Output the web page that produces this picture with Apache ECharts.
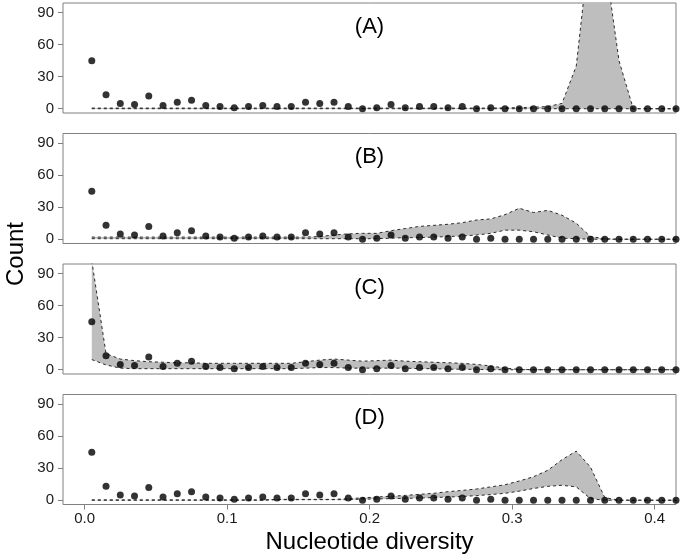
<!DOCTYPE html>
<html>
<head>
<meta charset="utf-8">
<script src="https://cdn.jsdelivr.net/npm/echarts@6/dist/echarts.min.js"></script>
<style>
  html, body { margin: 0; padding: 0; background: #fff; }
  #chart { width: 680px; height: 560px; }
</style>
</head>
<body>
<div id="chart"></div>
<script>
// bin centres (nucleotide diversity)
var binX = [0.005, 0.015, 0.025, 0.035, 0.045, 0.055, 0.065, 0.075, 0.085, 0.095,
  0.105, 0.115, 0.125, 0.135, 0.145, 0.155, 0.165, 0.175, 0.185, 0.195,
  0.205, 0.215, 0.225, 0.235, 0.245, 0.255, 0.265, 0.275, 0.285, 0.295,
  0.305, 0.315, 0.325, 0.335, 0.345, 0.355, 0.365, 0.375, 0.385, 0.395,
  0.405, 0.415];

// observed counts (same dots in every panel)
var counts = [45, 13, 5, 4, 12, 3, 6, 8, 3, 2,
  1, 2, 3, 2, 2, 6, 5, 6, 2, 0,
  1, 4, 1, 2, 2, 1, 2, 0, 1, 0,
  0, 0, 0, 0, 0, 0, 0, 0, 0, 0,
  0, 0];

// (A)
var lowerA = [0, 0, 0, 0, 0, 0, 0, 0, 0, 0,
  0, 0, 0, 0, 0, 0, 0, 0, 0, 0,
  0, 0, 0, 0, 0, 0, 0, 0, 0, 0,
  0, 0, 0, 0, 0, 0, 0, 0, 0, 0,
  0, 0];
var upperA = [0.6, 0.6, 0.6, 0.6, 0.6, 0.6, 0.6, 0.6, 0.6, 0.6,
  0.6, 0.6, 0.6, 0.6, 0.6, 0.6, 0.6, 0.6, 0.6, 0.6,
  0.6, 0.6, 0.6, 0.6, 0.6, 0.6, 0.6, 0.6, 0.6, 0.8,
  1, 1.5, 2, 5, 40, 160, 140, 45, 0, 0,
  0, 0];

// (B)
var lowerB = [0.5, 0.5, 0.5, 0.5, 0.5, 0.5, 0.5, 0.5, 0.5, 0.5,
  0.5, 0.5, 0.5, 0.5, 0.5, 0.5, 0.5, 0.5, 0.5, 0.5,
  0.5, 1, 1.5, 1.5, 2, 2.5, 3, 4, 5.5, 8.5,
  8.5, 7, 4, 1, 0.5, 0, 0, 0, 0, 0,
  0, 0];
var upperB = [2, 2, 2, 2, 2, 2, 2, 2, 2, 2,
  2, 2, 2, 2, 2, 2, 2.5, 4, 5, 5.5,
  5.5, 8, 10, 12, 13, 14, 15.5, 18, 19, 23,
  29, 25, 27, 22.5, 15, 2.5, 0.5, 0, 0, 0,
  0, 0];

// (C)
var lowerC = [9.5, 4.5, 1.5, 1, 1, 1, 1, 1, 1, 1,
  1, 1, 1, 1, 1, 1.5, 2, 2, 1.5, 1.5,
  1.5, 1.5, 1.5, 1, 1, 0.5, 0.5, 0.3, 0, 0,
  0, 0, 0, 0, 0, 0, 0, 0, 0, 0,
  0, 0];
var upperC = [102, 15, 10, 8.5, 7.5, 7, 6.5, 6.5, 6, 6,
  6, 6, 6, 6, 6, 7.5, 9, 10, 9, 8,
  8.5, 9, 8, 7.5, 7, 6.5, 6, 5, 3.5, 1.5,
  0.3, 0, 0, 0, 0, 0, 0, 0, 0, 0,
  0, 0];

// (D)
var lowerD = [0, 0, 0, 0, 0, 0, 0, 0, 0, 0,
  0, 0, 0, 0.5, 0.5, 0.5, 0.5, 0.5, 0.5, 1,
  1.2, 1.5, 1.8, 2, 2.5, 3, 3.5, 4.3, 5.3, 6.5,
  8.5, 11, 13, 14, 12.5, 1.5, 0, 0, 0, 0,
  0, 0];
var upperD = [0.3, 0.3, 0.3, 0.3, 0.3, 0.3, 0.3, 0.3, 0.3, 0.3,
  0.3, 0.3, 0.3, 0.8, 0.8, 0.8, 0.8, 0.8, 1.5, 2.2,
  3, 3.7, 4.5, 5.5, 6.5, 8, 9.2, 10.5, 12.5, 14.5,
  18, 22, 28, 38, 46, 31, 2.5, 0, 0, 0,
  0, 0];

var panelNames = ["(A)", "(B)", "(C)", "(D)"];
var lowers = [lowerA, lowerB, lowerC, lowerD];
var uppers = [upperA, upperB, upperC, upperD];
var yTicks = [0, 30, 60, 90];
var xTicks = [0, 0.1, 0.2, 0.3, 0.4];

var font = "Liberation Sans, Arial, Helvetica, sans-serif";
var panelTops = [3, 133.5, 264, 394.5];
var panelHeight = 110;
var plotLeft = 63;
var plotRight = 4;
var dashStyle = { color: "#2a2a2a", width: 1, type: [3, 3] };

// gray band: one polygon through all the (x, lower, upper) rows
function renderBand(params, api) {
  if (params.dataIndexInside !== 0) return;
  var n = params.dataInsideLength;
  var top = [], bottom = [];
  for (var k = 0; k < n; k++) {
    top.push(api.coord([api.value(0, k), api.value(2, k)]));
    bottom.unshift(api.coord([api.value(0, k), api.value(1, k)]));
  }
  return {
    type: "polygon",
    shape: { points: top.concat(bottom) },
    style: { fill: "#bebebe", stroke: null }
  };
}

var grids = [], xAxes = [], yAxes = [], series = [], graphics = [];

panelTops.forEach(function (top, i) {
  var last = i === panelTops.length - 1;
  grids.push({
    left: plotLeft, right: plotRight, top: top, height: panelHeight,
    show: true, borderColor: "#808080", borderWidth: 1, backgroundColor: "transparent"
  });
  xAxes.push({
    type: "value", gridIndex: i, min: -0.0152, max: 0.415,
    splitLine: { show: false },
    axisLine: { show: false, onZero: false },
    axisTick: { show: last, customValues: xTicks, length: 5, lineStyle: { color: "#808080" } },
    axisLabel: {
      show: last, customValues: xTicks, margin: 7,
      fontFamily: font, fontSize: 15, color: "#1a1a1a",
      formatter: function (v) { return v.toFixed(1); }
    }
  });
  yAxes.push({
    type: "value", gridIndex: i, min: -4, max: 99,
    splitLine: { show: false },
    axisLine: { show: false, onZero: false },
    axisTick: { show: true, customValues: yTicks, length: 5, lineStyle: { color: "#808080" } },
    axisLabel: {
      customValues: yTicks, margin: 9,
      fontFamily: font, fontSize: 15, color: "#1a1a1a"
    }
  });

  var lo = lowers[i], up = uppers[i];
  series.push({
    type: "custom", xAxisIndex: i, yAxisIndex: i, clip: true, z: 2,
    renderItem: renderBand,
    encode: { x: 0, y: [1, 2] },
    data: binX.map(function (x, k) { return [x, lo[k], up[k]]; })
  });
  series.push({
    type: "line", xAxisIndex: i, yAxisIndex: i, z: 3,
    data: binX.map(function (x, k) { return [x, lo[k]]; }),
    symbol: "none", lineStyle: dashStyle
  });
  series.push({
    type: "line", xAxisIndex: i, yAxisIndex: i, z: 3,
    data: binX.map(function (x, k) { return [x, up[k]]; }),
    symbol: "none", lineStyle: dashStyle
  });
  // observed counts
  series.push({
    type: "scatter", xAxisIndex: i, yAxisIndex: i,
    data: binX.map(function (x, k) { return [x, counts[k]]; }),
    symbol: "circle", symbolSize: 7, z: 5,
    itemStyle: { color: "#000" }
  });

  graphics.push({
    type: "text", x: plotLeft + (680 - plotLeft - plotRight) / 2, y: top + 23.5,
    style: {
      text: panelNames[i], fontFamily: font, fontSize: 22, fill: "#000",
      textAlign: "center", textVerticalAlign: "middle"
    }
  });
});

graphics.push({
  type: "text", x: 16, y: 254, rotation: Math.PI / 2,
  style: {
    text: "Count", fontFamily: font, fontSize: 24, fill: "#000",
    textAlign: "center", textVerticalAlign: "middle"
  }
});
graphics.push({
  type: "text", x: 369.5, y: 542,
  style: {
    text: "Nucleotide diversity", fontFamily: font, fontSize: 24, fill: "#000",
    textAlign: "center", textVerticalAlign: "middle"
  }
});

var myChart = echarts.init(document.getElementById("chart"), null, { renderer: "canvas" });
myChart.setOption({
  animation: false,
  backgroundColor: "#fff",
  grid: grids,
  xAxis: xAxes,
  yAxis: yAxes,
  series: series,
  graphic: graphics
});
</script>
</body>
</html>
